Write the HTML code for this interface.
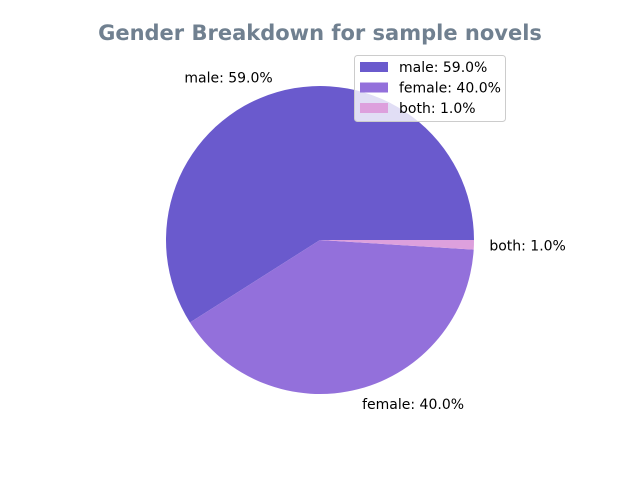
<!DOCTYPE html>
<html><head><meta charset="utf-8"><style>
body{margin:0;background:#fff;}
svg{display:block;font-family:"DejaVu Sans","Liberation Sans",sans-serif;}
</style></head><body>
<svg id="chart" width="640" height="480">
<rect width="640" height="480" fill="#fff"/>
<text x="320" y="40" text-anchor="middle" font-size="21" font-weight="bold" fill="#708090">Gender Breakdown for sample novels</text>
<g id="slices"></g>
<g id="labels"></g>
<g id="legend">
<rect x="354.5" y="55.5" width="151" height="66" rx="3" fill="#fff" fill-opacity="0.8" stroke="#ccc"/>
</g>
</svg>
<script>
const categories=["male","female","both"];
const values=[59.0,40.0,1.0];
const colors=["#6a5acd","#9370db","#dda0dd"];
const NS="http://www.w3.org/2000/svg";
const cx=320,cy=240,r=154;
const total=values.reduce((a,b)=>a+b,0);
const sg=document.getElementById('slices'),lg=document.getElementById('labels'),leg=document.getElementById('legend');
function pt(deg,rad){const a=deg*Math.PI/180;return [cx+rad*Math.cos(a),cy-rad*Math.sin(a)];}
let start=0;
values.forEach((v,i)=>{
  const sweep=v/total*360,end=start+sweep;
  const [x1,y1]=pt(start,r),[x2,y2]=pt(end,r);
  const p=document.createElementNS(NS,'path');
  p.setAttribute('d',`M${cx},${cy}L${x1},${y1}A${r},${r} 0 ${sweep>180?1:0} 0 ${x2},${y2}Z`);
  p.setAttribute('fill',colors[i]);
  
  
  sg.appendChild(p);
  const mid=start+sweep/2;const [lx,ly]=pt(mid,r*1.1);
  const t=document.createElementNS(NS,'text');
  t.setAttribute('x',lx);t.setAttribute('y',ly+5);t.setAttribute('font-size','14');
  t.setAttribute('text-anchor',lx<cx?'end':'start');
  t.textContent=categories[i]+': '+v.toFixed(1)+'%';
  
  
  lg.appendChild(t);
  const y=67+i*20.5;
  const sw=document.createElementNS(NS,'rect');
  sw.setAttribute('x',360);sw.setAttribute('y',y-5);sw.setAttribute('width',28);sw.setAttribute('height',10);sw.setAttribute('fill',colors[i]);
  
  
  leg.appendChild(sw);
  const lt=document.createElementNS(NS,'text');
  lt.setAttribute('x',399);lt.setAttribute('y',y+5);lt.setAttribute('font-size','14');
  lt.textContent=categories[i]+': '+v.toFixed(1)+'%';
  
  
  leg.appendChild(lt);
  start=end;
});
</script>
</body></html>
